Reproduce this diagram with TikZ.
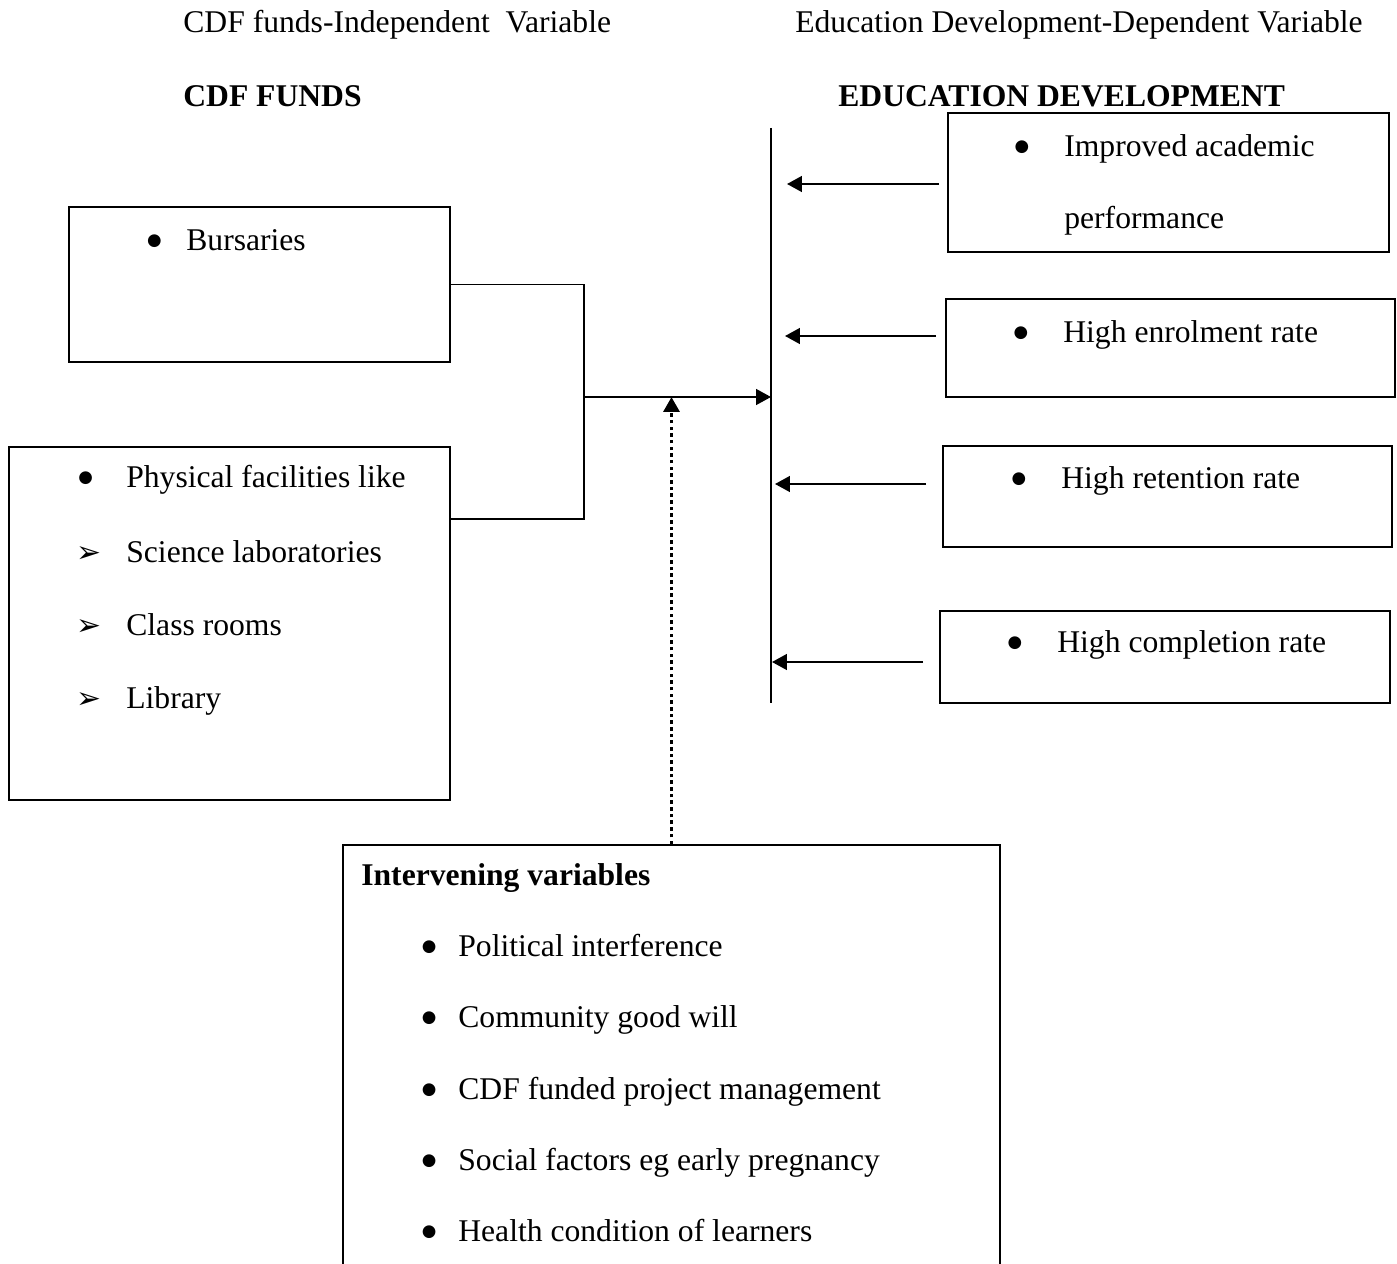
\documentclass[tikz,border=0pt]{standalone}
\usepackage{fontspec}
\setmainfont{Liberation Serif}
\newfontfamily\symfont{DejaVu Sans}
\usetikzlibrary{arrows.meta,fit}

% bullets hanging left of the item text
\newcommand{\bul}[1]{\llap{\raisebox{2.8pt}{\symfont\fontsize{9.5}{12}\selectfont ●}\hspace{#1}}}
\newcommand{\arrbul}[1]{\llap{{\symfont\fontsize{17}{19}\selectfont ➢}\hspace{#1}}}

\tikzset{
  varbox/.style={draw, line width=1.1pt, inner sep=0pt},
  txt/.style={anchor=base west, inner sep=0pt},
  link/.style={line width=1.1pt},
  dotlink/.style={line width=2pt, dash pattern=on 2pt off 1.8pt},
}

\begin{document}
\begin{tikzpicture}[x=0.02cm, y=-0.02cm, >={Triangle[length=8.5pt,width=9pt]},
    font=\fontsize{18}{22}\selectfont]
        \useasboundingbox (0,0) rectangle (1397,1264);

        % Headings
        \node[txt] (indep) at (183,33) {CDF funds-Independent\ \ Variable};
        \node[txt] (dep) at (795,33) {Education Development-Dependent Variable};
        \node[txt] (cdfhead) at (183,107) {\textbf{CDF FUNDS}};
        \node[txt] (eduhead) at (838,107) {\textbf{EDUCATION DEVELOPMENT}};

        % CDF funds boxes
        \node[varbox, fit={(69,207) (450,362)}] (bursaries) {};
        \node[txt] (bursitem) at (186,250) {\bul{14pt}Bursaries};

        \node[varbox, fit={(9,447) (450,800)}] (facilities) {};
        \node[txt] (facitem) at (126,487) {\bul{19pt}Physical facilities like};
        \node[txt] (labitem) at (126,562) {\arrbul{14pt}Science laboratories};
        \node[txt] (classitem) at (126,635) {\arrbul{14pt}Class rooms};
        \node[txt] (libitem) at (126,708) {\arrbul{14pt}Library};

        % Education development boxes
        \node[varbox, fit={(948,113) (1389,252)}] (improved) {};
        \node[txt] (impitem) at (1064,156) {\bul{20pt}Improved academic};
        \node[txt] (impitemb) at (1064,228) {performance};

        \node[varbox, fit={(946,299) (1395,397)}] (enrol) {};
        \node[txt] (enritem) at (1063,342) {\bul{20pt}High enrolment rate};

        \node[varbox, fit={(943,446) (1392,547)}] (retention) {};
        \node[txt] (retitem) at (1061,488) {\bul{20pt}High retention rate};

        \node[varbox, fit={(940,611) (1390,703)}] (completion) {};
        \node[txt] (comitem) at (1057,652) {\bul{20pt}High completion rate};

        % Intervening variables
        \node[varbox, fit={(343,845) (1000,1300)}] (intervening) {};
        \node[txt] (inthead) at (361,885) {\textbf{Intervening variables}};
        \node[txt] (polit) at (458,956) {\bul{12.5pt}Political interference};
        \node[txt] (commun) at (458,1027) {\bul{12.5pt}Community good will};
        \node[txt] (manage) at (458,1099) {\bul{12.5pt}CDF funded project management};
        \node[txt] (social) at (458,1170) {\bul{12.5pt}Social factors eg early pregnancy};
        \node[txt] (health) at (458,1241) {\bul{12.5pt}Health condition of learners};

        % joining lines and main arrow
        \coordinate (join) at (584,397);
        \coordinate (facout) at (450,519);
        \coordinate (vtop) at (771,128);
        \coordinate (vbot) at (771,703);
        \draw[link] (bursaries.east) -| (join) |- (facout);
        \draw[link] (vtop) -- (vbot);
        \draw[link, ->] (join) -- (join -| vtop);
        \draw[dotlink, ->] (intervening.north) -- (intervening.north |- join);

        % arrows from the outcome boxes
        \coordinate (imps) at (939,184);
        \coordinate (impe) at (787,184);
        \coordinate (enrs) at (936,336);
        \coordinate (enre) at (785,336);
        \coordinate (rets) at (926,484);
        \coordinate (rete) at (775,484);
        \coordinate (coms) at (923,662);
        \coordinate (come) at (772,662);
        \draw[link, ->] (imps) -- (impe);
        \draw[link, ->] (enrs) -- (enre);
        \draw[link, ->] (rets) -- (rete);
        \draw[link, ->] (coms) -- (come);

\end{tikzpicture}
\end{document}
